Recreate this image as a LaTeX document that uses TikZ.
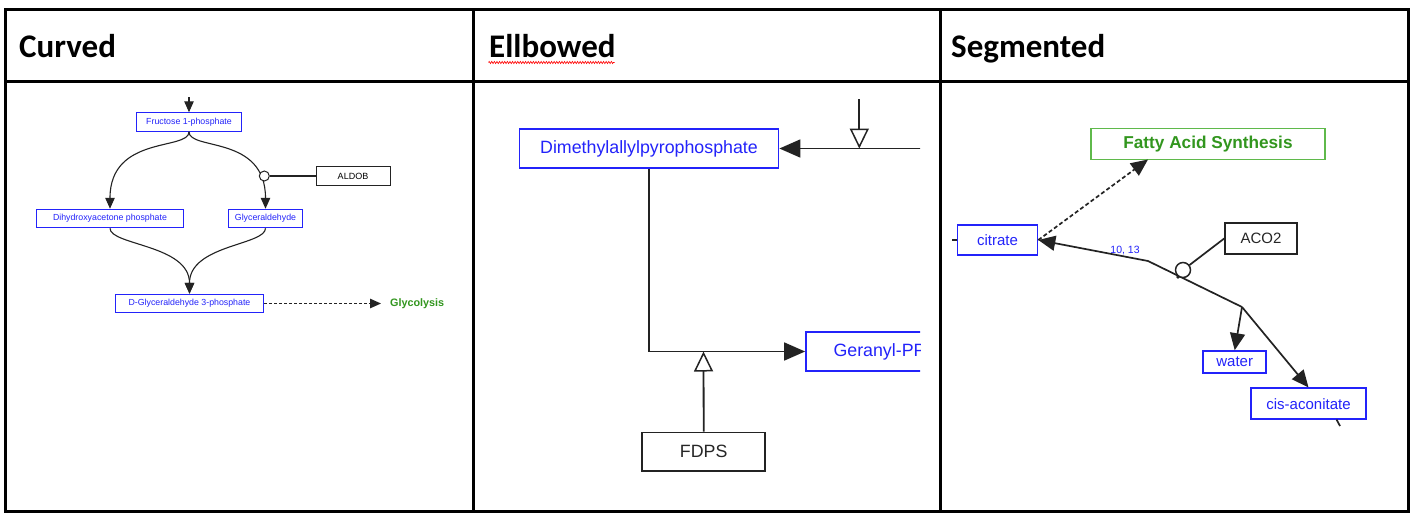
\documentclass[tikz,border=0pt]{standalone}
\usepackage{fontspec}
\setmainfont{Carlito}
\newfontfamily\arialf{Liberation Sans}
\usetikzlibrary{arrows.meta,decorations.pathmorphing}
\definecolor{pblue}{RGB}{35,35,250}
\definecolor{pgreen}{RGB}{50,150,30}
\definecolor{pgreenb}{RGB}{95,185,75}
\definecolor{pline}{RGB}{35,35,35}
\begin{document}
\begin{tikzpicture}[x=1pt,y=-1pt,
  hdr/.style={anchor=base west,inner sep=0,font=\fontsize{33}{36}\selectfont\bfseries},
  tbl/.style={line width=3pt,black},
  onebox/.style={draw=pblue,line width=1pt,fill=white,inner sep=0,text=pblue,font=\arialf\fontsize{8.8}{10}\selectfont,minimum height=18.5pt},
  oneenz/.style={draw=pline,line width=1pt,fill=white,inner sep=0,text=black,font=\arialf\fontsize{9}{10}\selectfont,minimum height=19pt},
  oneline/.style={draw=pline,line width=1.1pt},
  onetip/.style={-{Triangle[length=11pt,width=9.5pt]}},
  twobox/.style={draw=pblue,line width=1.8pt,fill=white,inner sep=0,text=pblue,font=\arialf\fontsize{17.8}{20}\selectfont,minimum height=38.5pt},
  twoenz/.style={draw=pline,line width=1.8pt,fill=white,inner sep=0,text=black!85,font=\arialf\fontsize{17.8}{20}\selectfont,minimum height=38.5pt},
  twoline/.style={draw=pline,line width=1.8pt},
  twotip/.style={-{Triangle[length=21pt,width=18pt]}},
  twoopen/.style={-{Triangle[length=20pt,width=19pt,fill=white,line width=1.5pt]}},
  threebox/.style={draw=pblue,line width=1.6pt,fill=white,inner sep=0,text=pblue,font=\arialf\fontsize{15}{17}\selectfont},
  threeenz/.style={draw=pline,line width=1.6pt,fill=white,inner sep=0,text=black!85,font=\arialf\fontsize{15}{17}\selectfont},
  threeline/.style={draw=pline,line width=1.7pt},
  threetip/.style={-{Triangle[length=17pt,width=15pt]}},
]
\useasboundingbox (0,0) rectangle (1418,520);
\fill[white] (0,0) rectangle (1418,520);

% ---------- table ----------
\draw[tbl] (5.5,9.5) rectangle (1408,511.5);
\draw[tbl] (5.5,81.5) -- (1408,81.5);
\draw[tbl] (473.5,9.5) -- (473.5,511.5);
\draw[tbl] (940.5,9.5) -- (940.5,511.5);
\node[hdr] (hcurved) at (19,57) {Curved};
\node[hdr] (hellbowed) at (489,57) {Ellbowed};
\node[hdr] (hsegmented) at (951,57) {Segmented};
\draw[red,line width=0.6pt,decorate,decoration={zigzag,amplitude=1.1pt,segment length=2.6pt}] (488.5,62.5) -- (614.5,62.5);

% ---------- panel 1: curved ----------
\node[onebox,minimum width=105pt] (f1p) at (189,122) {Fructose 1-phosphate};
\node[onebox,minimum width=147pt] (dhap) at (110,218.5) {Dihydroxyacetone phosphate};
\node[onebox,minimum width=74pt] (glyald) at (265.5,218.5) {Glyceraldehyde};
\node[onebox,minimum width=148pt] (g3p) at (189.5,303.5) {D-Glyceraldehyde 3-phosphate};
\node[oneenz,minimum width=74pt] (aldob) at (353,176) {ALDOB};
\node[anchor=west,inner sep=0,text=pgreen,font=\arialf\fontsize{10.8}{12}\selectfont\bfseries] (glyc) at (390,303.5) {Glycolysis};
\coordinate (f1pin) at (189,97);
\coordinate (glycin) at (381,303.5);
\draw[oneline,onetip] (f1pin) -- (f1p.north);
\draw[oneline,onetip] (f1p.south) .. controls +(0,19) and +(0,-74) .. (dhap.north);
\draw[oneline,onetip] (f1p.south) .. controls +(0,19) and +(0,-74) .. (glyald.north);
\draw[oneline,onetip] (dhap.south) .. controls +(0,17) and +(0,-49) .. (g3p.north);
\draw[oneline,onetip] (glyald.south) .. controls +(0,17) and +(0,-49) .. (g3p.north);
\node[circle,draw=pline,line width=1pt,fill=white,minimum size=10pt,inner sep=0] (mod1) at (264.3,176) {};
\draw[oneline] (mod1) -- (aldob);
\draw[oneline,dashed,dash pattern=on 3pt off 2pt,onetip] (g3p.east) -- (glycin);

% ---------- panel 2: ellbowed ----------
\begin{scope}
\clip (475,99) rectangle (920,510);
\node[twobox,minimum width=259pt] (dmapp) at (649,148.5) {Dimethylallylpyrophosphate};
\node[twobox,minimum width=147pt] (gpp) at (879.5,351.5) {Geranyl-PP};
\node[twoenz,minimum width=123pt] (fdps) at (703.7,451.7) {FDPS};
\coordinate (in2) at (925,148.5);
\coordinate (mod2top) at (859.3,95);
\coordinate (mod2) at (859.3,148.5);
\coordinate (mod3) at (703.5,351.5);
\draw[twoline,twotip] (in2) -- (dmapp.east);
\draw[twoline,twoopen] (mod2top) -- (mod2);
\draw[twoline,twotip] (dmapp.south) |- (gpp.west);
\draw[twoline,twoopen] (fdps.north) -- (mod3);
\end{scope}

% ---------- panel 3: segmented ----------
\node[draw=pgreenb,line width=1.6pt,fill=white,inner sep=0,minimum width=234pt,minimum height=31pt,text=pgreen,font=\arialf\fontsize{17.2}{19}\selectfont\bfseries] (fas) at (1208,144) {Fatty Acid Synthesis};
\node[threebox,minimum width=80pt,minimum height=30pt] (cit) at (997.5,240) {citrate};
\node[threeenz,minimum width=72pt,minimum height=31pt] (aco2) at (1261,238.5) {ACO2};
\node[threebox,minimum width=63pt,minimum height=22pt] (water) at (1234.7,362) {water};
\node[threebox,minimum width=115pt,minimum height=31pt] (cis) at (1308.5,403.7) {cis-aconitate};
\coordinate (bend) at (1148,261);
\coordinate (anch) at (1242,307);
\coordinate (fasin) at (1148,159.5);
\coordinate (stubA) at (952,240);
\coordinate (cisb) at (1336.5,419.5);
\coordinate (stubB) at (1340,426);
\draw[threeline,threetip] (anch) -- (bend) -- (cit.east);
\draw[threeline,threetip] (anch) -- (water.north);
\draw[threeline,threetip] (anch) -- (cis.north);
\draw[threeline,dashed,dash pattern=on 4pt off 2.5pt,threetip] (cit.east) -- (fasin);
\node[circle,draw=pline,line width=1.5pt,fill=white,minimum size=15pt,inner sep=0] (mod4) at (1183,270) {};
\draw[threeline] (mod4) -- (aco2.west);
\fill[pline] (1178,277) circle (1.8pt);
\node[text=pblue,inner sep=0,font=\arialf\fontsize{10.5}{12}\selectfont] (lab) at (1125,250.5) {10, 13};
\draw[threeline] (stubA) -- (cit.west);
\draw[threeline] (cisb) -- (stubB);
\end{tikzpicture}
\end{document}
